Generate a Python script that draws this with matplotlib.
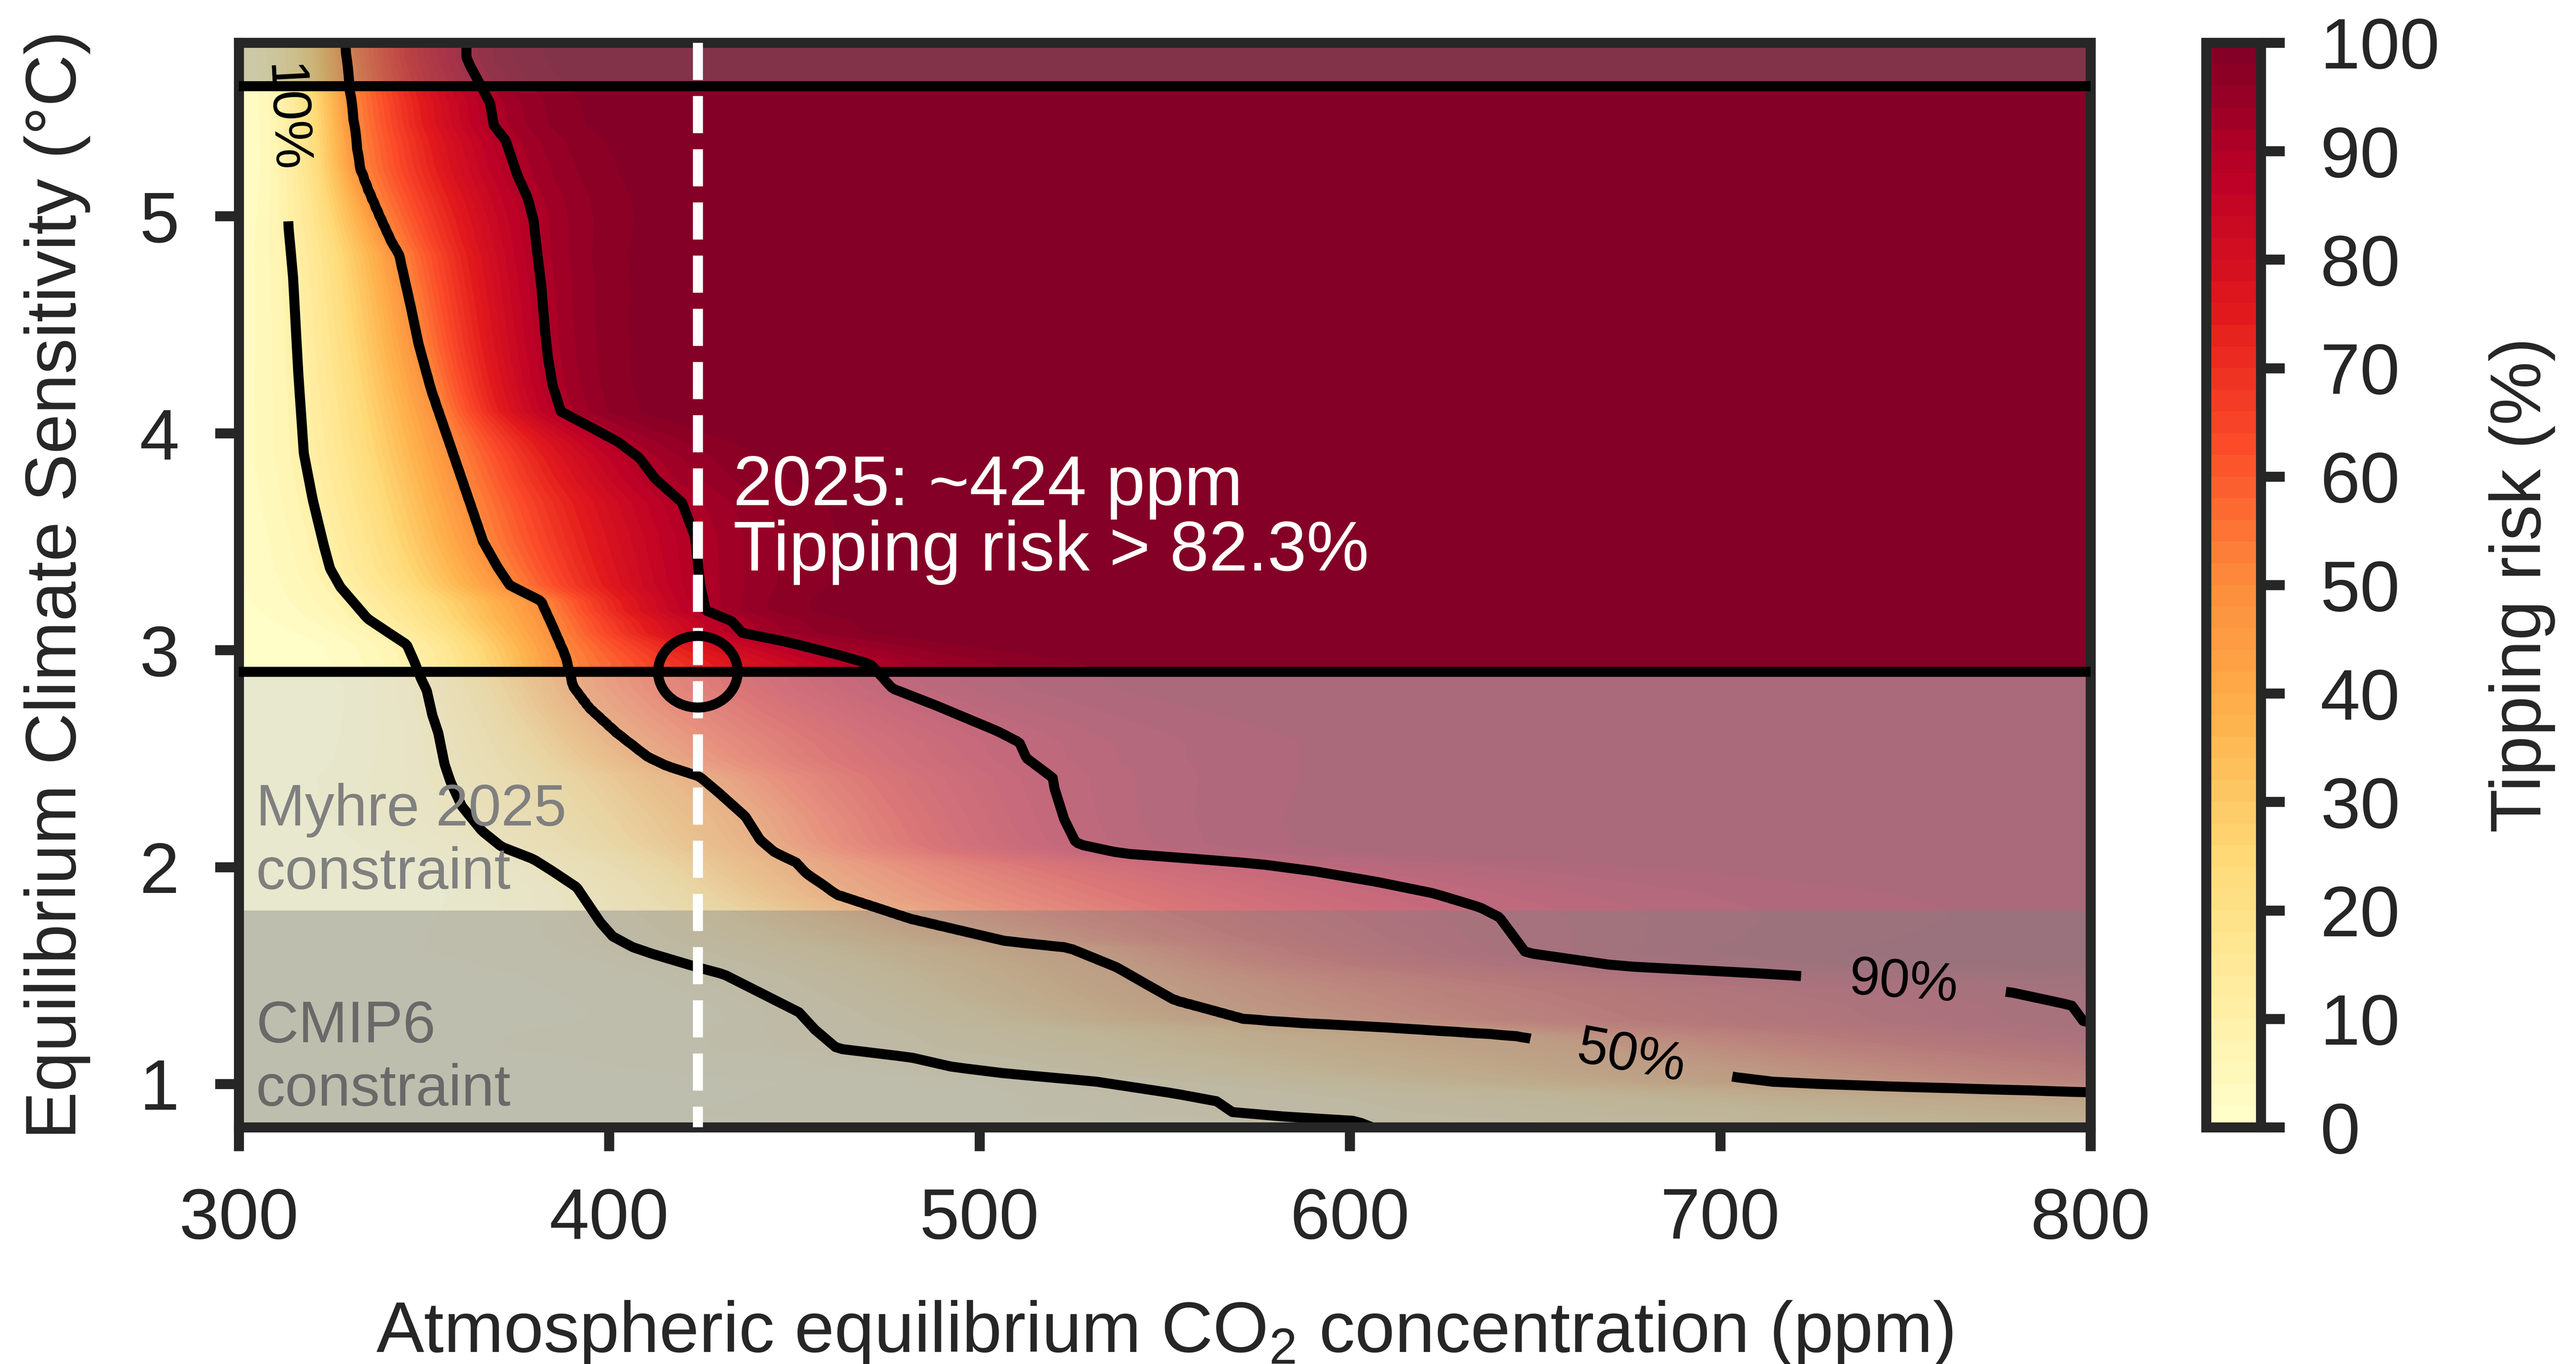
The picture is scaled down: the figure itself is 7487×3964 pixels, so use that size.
import math
import numpy as np
import matplotlib
matplotlib.use('Agg')
import matplotlib.pyplot as plt
from matplotlib.patches import Ellipse

plt.rcParams['font.family'] = ['Liberation Sans', 'DejaVu Sans']
plt.rcParams['mathtext.fontset'] = 'custom'
plt.rcParams['mathtext.rm'] = 'Liberation Sans'

DARK = '#262626'

# contour paths: CO2 (ppm) and ECS (degC), top to bottom
co2_10 = [311.0, 312.3, 313.5, 314.7, 316.1, 317.6, 320.0, 323.0, 324.7, 327.5,
          334.8, 341.2, 345.4, 347.5, 349.2, 350.8, 352.3, 353.9, 355.6, 357.2,
          360.3, 365.7, 371.0, 379.6, 384.9, 391.3, 397.7, 401.0, 406.3, 411.6,
          424.4, 431.0, 451.3, 455.6, 461.6, 481.5, 492.8, 507.1, 531.3, 552.6,
          564.0, 568.3, 582.5, 601.7, 606.0, 625.0]
ecs_10 = [5.80, 5.45, 4.945, 4.72, 4.28, 3.907, 3.694, 3.482, 3.375, 3.29,
          3.145, 3.072, 3.025, 2.944, 2.87, 2.813, 2.70, 2.618, 2.474, 2.393,
          2.279, 2.166, 2.093, 2.036, 1.979, 1.906, 1.744, 1.68, 1.631, 1.60,
          1.535, 1.505, 1.33, 1.25, 1.163, 1.122, 1.078, 1.048, 1.011, 0.956,
          0.92, 0.87, 0.849, 0.829, 0.80, 0.70]

co2_50 = [328.7, 329.9, 331.1, 332.6, 334.8, 337.9, 341.2, 343.3, 346.5, 348.6,
          352.0, 357.0, 362.0, 366.0, 370.0, 373.2, 381.7, 384.9, 388.1, 390.3,
          394.6, 402.0, 410.5, 415.8, 424.4, 429.5, 436.8, 440.8, 444.7, 450.5,
          453.0, 461.6, 481.5, 507.1, 524.1, 537.0, 552.6, 571.1, 582.5, 607.1,
          643.6, 648.5, 703.6, 714.1, 732.3, 800.0, 900.0, 1100.0]
ecs_50 = [5.80, 5.592, 5.43, 5.227, 5.127, 5.005, 4.883, 4.823, 4.58, 4.41,
          4.20, 3.95, 3.70, 3.50, 3.38, 3.299, 3.226, 3.105, 2.976, 2.83,
          2.733, 2.618, 2.506, 2.464, 2.417, 2.344, 2.233, 2.125, 2.068, 2.02,
          1.973, 1.871, 1.76, 1.658, 1.628, 1.538, 1.386, 1.30, 1.284, 1.263,
          1.224, 1.21, 1.032, 1.01, 0.995, 0.962, 0.90, 0.75]

co2_90 = [361.5, 361.5, 362.5, 365.7, 367.9, 368.9, 372.1, 375.3, 378.0, 379.6,
          380.6, 381.7, 382.7, 383.5, 384.8, 387.0, 397.0, 402.5, 408.2, 412.5,
          419.7, 423.2, 424.6, 426.1, 433.1, 436.0, 448.1, 462.3, 470.6, 476.5,
          488.2, 505.0, 510.8, 512.7, 519.8, 520.3, 522.9, 525.8, 527.0, 538.2,
          559.1, 575.4, 590.5, 607.1, 622.7, 635.1, 640.4, 647.5, 672.3, 715.3,
          777.2, 794.9, 798.2, 830.0, 1000.0, 1300.0]
ecs_90 = [5.80, 5.733, 5.693, 5.592, 5.52, 5.419, 5.349, 5.187, 5.086, 4.984,
          4.834, 4.681, 4.478, 4.35, 4.22, 4.10, 4.01, 3.959, 3.886, 3.789,
          3.68, 3.523, 3.304, 3.183, 3.134, 3.079, 3.037, 2.976, 2.935, 2.823,
          2.745, 2.625, 2.574, 2.502, 2.411, 2.361, 2.22, 2.12, 2.104, 2.063,
          2.036, 2.014, 1.98, 1.932, 1.878, 1.814, 1.768, 1.605, 1.544, 1.505,
          1.427, 1.362, 1.286, 1.20, 1.00, 0.75]

risk_levels = [10, 50, 90]
label_spots = [(313.0, 5.45), (676.0, 1.12), (749.5, 1.466)]

co2_range = (300, 800)
ecs_range = (0.8, 5.8)
current_co2 = 424
current_ecs = 2.9
myhre_low = 2.9
cmip6_range = (1.8, 5.6)

# risk field rebuilt between the three read contours (normal-shaped profile per row)
co2 = np.linspace(co2_range[0], co2_range[1], 501)
ecs = np.linspace(ecs_range[0], ecs_range[1], 501)
paths = [(co2_10, ecs_10), (co2_50, ecs_50), (co2_90, ecs_90)]
zq = np.array([-1.2816, 0.0, 1.2816])
erf = np.vectorize(math.erf)
lx = np.log(co2)
Z = np.empty((ecs.size, co2.size))
for i, s in enumerate(ecs):
    la = np.log([np.interp(s, e[::-1], c[::-1]) for c, e in paths])
    z = np.interp(lx, la, zq)
    lo = lx < la[0]
    z[lo] = zq[0] + (lx[lo] - la[0]) * (zq[1] - zq[0]) / (la[1] - la[0])
    hi = lx > la[2]
    z[hi] = zq[2] + (lx[hi] - la[2]) * (zq[2] - zq[1]) / (la[2] - la[1])
    Z[i] = 50 * (1 + erf(z / math.sqrt(2)))
Z = np.clip(Z, 0, 100)

fig = plt.figure(figsize=(7487 / 600, 3964 / 600), dpi=600)
ax = fig.add_axes([0.09263, 0.17356, 0.71892, 0.79516])
cax = fig.add_axes([0.85642, 0.17356, 0.02124, 0.79516])

cf = ax.contourf(co2, ecs, Z, levels=np.linspace(0, 100, 51), cmap='YlOrRd', zorder=0)

# constraint shading
ax.axhspan(ecs_range[0], myhre_low, color='lightgray', alpha=0.5, lw=0, zorder=1)
ax.axhspan(ecs_range[0], cmip6_range[0], color='gray', alpha=0.4, lw=0, zorder=1)
ax.axhspan(cmip6_range[1], ecs_range[1], color='gray', alpha=0.4, lw=0, zorder=1)

cs = ax.contour(co2, ecs, Z, levels=risk_levels, colors='black', linewidths=3.5, zorder=2)
ax.clabel(cs, fmt='%d%%', fontsize=19, inline=True, inline_spacing=140,
          manual=label_spots)

ax.axhline(myhre_low, color='black', lw=3.5, zorder=3)
ax.axhline(cmip6_range[1], color='black', lw=3.5, zorder=3)
ax.plot([current_co2, current_co2], [ecs_range[1], ecs_range[0]], color='white',
        ls='--', lw=3.5, zorder=4)
ax.add_patch(Ellipse((current_co2, current_ecs), 21.5, 0.33, fill=False,
                     ec='black', lw=3.5, zorder=5))

ax.text(433.5, 3.367, f'2025: ~{current_co2} ppm\nTipping risk > 82.3%',
        color='white', fontsize=24.5, ha='left', va='baseline', linespacing=1.0, zorder=6)
ax.text(304.7, 1.90, 'Myhre 2025\nconstraint', color='#808080', fontsize=20.5,
        ha='left', va='baseline', zorder=6)
ax.text(304.7, 0.90, 'CMIP6\nconstraint', color='#696969', fontsize=20.5,
        ha='left', va='baseline', zorder=6)

ax.set_xlim(*co2_range)
ax.set_ylim(*ecs_range)
ax.set_xticks(range(300, 801, 100))
ax.set_yticks(range(1, 6))
ax.set_xlabel(r'Atmospheric equilibrium CO$_\mathregular{2}$ concentration (ppm)',
              fontsize=25, color=DARK, labelpad=16)
ax.set_ylabel('Equilibrium Climate Sensitivity (°C)', fontsize=25, color=DARK, labelpad=17)
for a in (ax, cax):
    a.tick_params(direction='out', length=8.3, width=3.5, pad=12.4, labelsize=25,
                  colors=DARK)
for sp in ax.spines.values():
    sp.set_linewidth(3.5)
    sp.set_color(DARK)

cbar = fig.colorbar(cf, cax=cax, ticks=range(0, 101, 10))
cbar.outline.set_linewidth(3.5)
cbar.outline.set_edgecolor(DARK)
cbar.set_label('Tipping risk (%)', fontsize=25, color=DARK, labelpad=17)

fig.savefig('out.png', dpi=600)
